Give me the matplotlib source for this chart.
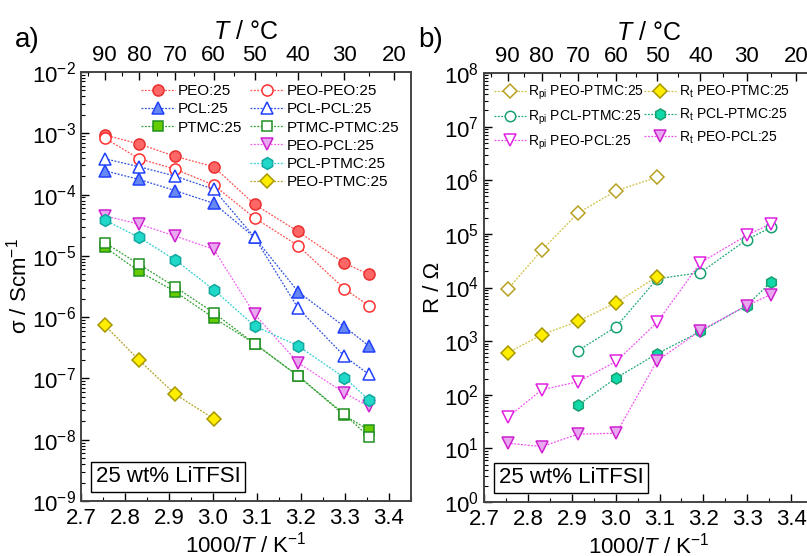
import numpy as np
import matplotlib
matplotlib.use('Agg')
from matplotlib import pyplot as plt
from matplotlib.lines import Line2D
from matplotlib.ticker import LogLocator, NullFormatter, MultipleLocator, FixedLocator

plt.rcParams['font.family'] = ['Liberation Sans', 'DejaVu Sans']
plt.rcParams['mathtext.fontset'] = 'custom'
plt.rcParams['mathtext.rm'] = 'Liberation Sans'
plt.rcParams['mathtext.it'] = 'Liberation Sans:italic'

# temperatures of the measurements (°C) -> 1000/T
temp_c = [90, 80, 70, 60, 50, 40, 30, 25]
inv_t = [1000 / (t + 273.15) for t in temp_c]

# a) conductivity / S cm-1
peo = [9.4e-4, 6.7e-4, 4.2e-4, 2.85e-4, 6.9e-5, 2.5e-5, 7.6e-6, 5.0e-6]
peo_peo = [8.4e-4, 3.85e-4, 2.6e-4, 1.43e-4, 4.15e-5, 1.47e-5, 2.9e-6, 1.54e-6]
pcl = [2.45e-4, 1.77e-4, 1.16e-4, 7.2e-5, 2.0e-5, 2.6e-6, 7.0e-7, 3.4e-7]
pcl_pcl = [3.85e-4, 2.85e-4, 2.0e-4, 1.22e-4, 2.0e-5, 1.4e-6, 2.3e-7, 1.17e-7]
ptmc = [1.4e-5, 5.6e-6, 2.6e-6, 9.7e-7, 3.7e-7, 1.1e-7, 2.5e-8, 1.44e-8]
ptmc_ptmc = [1.65e-5, 7.3e-6, 3.1e-6, 1.18e-6, 3.7e-7, 1.1e-7, 2.6e-8, 1.12e-8]
peo_pcl = [4.5e-5, 3.3e-5, 2.1e-5, 1.28e-5, 1.12e-6, 1.8e-7, 5.8e-8, 3.5e-8]
pcl_ptmc = [3.85e-5, 2.0e-5, 8.6e-6, 2.8e-6, 7.2e-7, 3.4e-7, 1.03e-7, 4.5e-8]
peo_ptmc = [7.4e-7, 2.0e-7, 5.5e-8, 2.2e-8]

# b) resistances / Ohm
rpi_peo_ptmc = [9.2e3, 4.97e4, 2.45e5, 6.4e5, 1.14e6]
rt_peo_ptmc = [600, 1320, 2340, 5250, 1.6e4]
rpi_pcl_ptmc = [664, 1870, 1.45e4, 1.9e4, 7.8e4, 1.32e5]
rt_pcl_ptmc = [64, 208, 583, 1520, 4600, 1.26e4]
rpi_peo_pcl = [37.7, 124, 175, 420, 2240, 2.9e4, 9.4e4, 1.55e5]
rt_peo_pcl = [12.5, 10.8, 18.4, 19.2, 432, 1570, 4600, 7400]

top_major = [90, 80, 70, 60, 50, 40, 30, 20]
top_minor = [95, 85, 75, 65, 55, 45, 35, 25, 15]

fig = plt.figure(figsize=(8.07, 5.56), dpi=100)
ax1 = fig.add_axes([0.1004, 0.0989, 0.4089, 0.7716])
ax2 = fig.add_axes([0.5998, 0.0971, 0.4077, 0.7716])


def series(ax, x, y, marker, edge, face, line, label, ms=8):
    ax.plot(x, y, ls=(0, (1.5, 1.2)), lw=0.9, color=line, marker=marker,
            ms=ms, mec=edge, mfc=face, mew=1.1, label=label)


series(ax1, inv_t, peo, 'o', '#e83030', '#ff6666', '#ff5050', 'PEO:25')
series(ax1, inv_t, pcl, '^', '#2040ff', '#6688f0', '#3050e0', 'PCL:25', ms=9)
series(ax1, inv_t, ptmc, 's', '#209020', '#66cc00', '#30a030', 'PTMC:25', ms=7)
series(ax1, inv_t, peo_peo, 'o', '#ff3030', 'white', '#ff5050', 'PEO-PEO:25')
series(ax1, inv_t, pcl_pcl, '^', '#2040ff', 'white', '#3050e0', 'PCL-PCL:25', ms=9)
series(ax1, inv_t, ptmc_ptmc, 's', '#209020', 'white', '#30a030', 'PTMC-PTMC:25', ms=7)
series(ax1, inv_t, peo_pcl, 'v', '#d020d0', '#e8a8f0', '#f060f0', 'PEO-PCL:25', ms=9)
series(ax1, inv_t, pcl_ptmc, 'h', '#10a8a0', '#20d8c8', '#30d0d0', 'PCL-PTMC:25', ms=8.5)
series(ax1, inv_t[:4], peo_ptmc, 'D', '#a89800', '#ffee00', '#b0a020', 'PEO-PTMC:25', ms=7)

h, l = ax1.get_legend_handles_labels()
blank = Line2D([], [], ls='none', marker='none')
order = [0, 1, 2, None, None, None, 3, 4, 5, 6, 7, 8]
hh = [h[i] if i is not None else blank for i in order]
ll = [l[i] if i is not None else '' for i in order]
ax1.legend(hh, ll, ncol=2, loc='upper left', bbox_to_anchor=(0.15, 0.997), frameon=False,
           fontsize=11, handlelength=2.2, handletextpad=0.2, columnspacing=0.5,
           labelspacing=0.28, borderaxespad=0.3)

series(ax2, inv_t[:5], rpi_peo_ptmc, 'D', '#b8a020', 'white', '#d0c040', r'R$_\mathrm{pi}$ PEO-PTMC:25', ms=7)
series(ax2, inv_t[2:], rpi_pcl_ptmc, 'o', '#18a070', 'white', '#20a878', r'R$_\mathrm{pi}$ PCL-PTMC:25', ms=7.5)
series(ax2, inv_t, rpi_peo_pcl, 'v', '#e020e0', 'white', '#f050f0', r'R$_\mathrm{pi}$ PEO-PCL:25', ms=9)
series(ax2, inv_t[:5], rt_peo_ptmc, 'D', '#a89800', '#ffee00', '#d0c040', r'R$_\mathrm{t}$ PEO-PTMC:25', ms=7)
series(ax2, inv_t[2:], rt_pcl_ptmc, 'h', '#18a070', '#10d8a8', '#20a878', r'R$_\mathrm{t}$ PCL-PTMC:25', ms=8)
series(ax2, inv_t, rt_peo_pcl, 'v', '#d020d0', '#e8a8f0', '#f050f0', r'R$_\mathrm{t}$ PEO-PCL:25', ms=9)

ax2.legend(ncol=2, loc='upper left', bbox_to_anchor=(0.0, 0.997), frameon=False,
           fontsize=10, handlelength=2.3, handletextpad=0.2, columnspacing=0.0,
           labelspacing=0.45, borderaxespad=0.3)

for ax, ylim, ylabel in [(ax1, (1e-9, 1e-2), r'σ / Scm$^{-1}$'), (ax2, (1, 1e8), r'R / Ω')]:
    ax.set_yscale('log')
    ax.set_ylim(*ylim)
    ax.set_xlim(2.7, 3.45)
    ax.xaxis.set_major_locator(MultipleLocator(0.1))
    ax.xaxis.set_minor_locator(MultipleLocator(0.05))
    ax.yaxis.set_major_locator(LogLocator(base=10, numticks=20))
    ax.yaxis.set_minor_locator(LogLocator(base=10, subs=np.arange(2, 10), numticks=20))
    ax.yaxis.set_minor_formatter(NullFormatter())
    ax.tick_params(which='both', direction='in', labelsize=16, top=False, right=False)
    ax.tick_params(which='major', length=6, width=1)
    ax.tick_params(which='minor', length=3, width=0.8)
    ax.tick_params(axis='x', pad=5)
    ax.set_xticklabels(['%.1f' % v for v in ax.get_xticks()])
    ax.set_xlabel(r'1000/$\it{T}$ / K$^{-1}$', fontsize=16, labelpad=2)
    ax.set_ylabel(ylabel, fontsize=16, labelpad=0)
    for s in ax.spines.values():
        s.set_color('#444444')
        s.set_linewidth(1.2)
    ax.text(0.045, 0.032, '25 wt% LiTFSI', transform=ax.transAxes, fontsize=16,
            ha='left', va='bottom',
            bbox=dict(boxstyle='square,pad=0.2', fc='white', ec='black', lw=1))

    top = ax.twiny()
    top.set_xlim(ax.get_xlim())
    top.xaxis.set_major_locator(FixedLocator([1000 / (t + 273.15) for t in top_major]))
    top.xaxis.set_minor_locator(FixedLocator([1000 / (t + 273.15) for t in top_minor]))
    top.set_xticklabels([str(t) for t in top_major])
    top.tick_params(which='both', direction='in', labelsize=16, pad=4)
    top.tick_params(which='major', length=6, width=1)
    top.tick_params(which='minor', length=3, width=0.8)
    top.set_xlabel(r'$\it{T}$ / °C', fontsize=18, labelpad=5)
    for s in top.spines.values():
        s.set_color('#444444')
        s.set_linewidth(1.2)

fig.text(0.018, 0.928, 'a)', fontsize=20, ha='left', va='center')
fig.text(0.518, 0.928, 'b)', fontsize=20, ha='left', va='center')

plt.savefig('out.png', dpi=100)
